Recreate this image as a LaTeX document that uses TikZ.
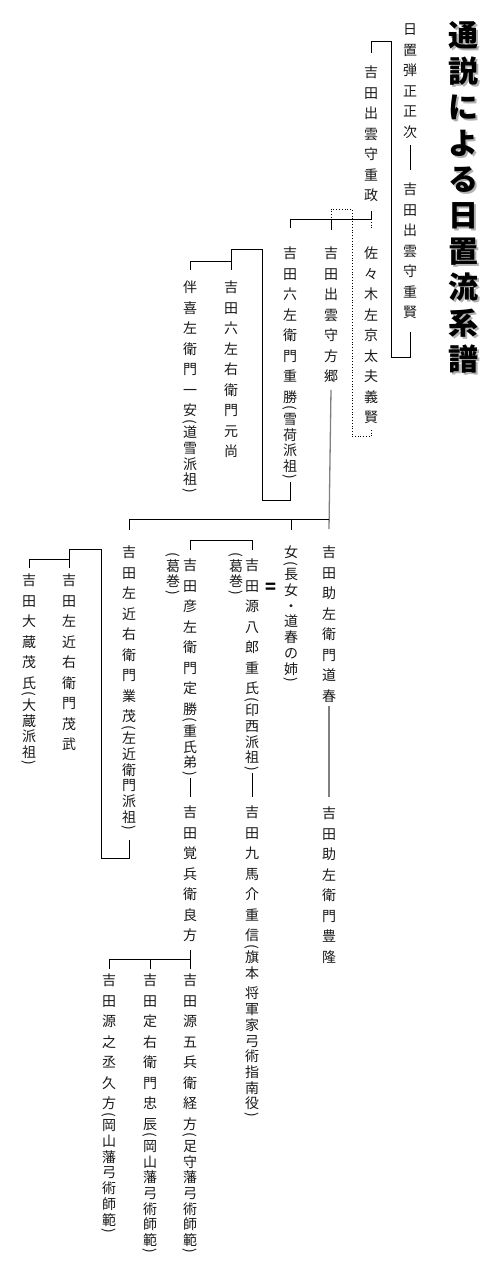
\documentclass[tikz,border=0pt]{standalone}
\usepackage{fontspec}
\usepackage{graphicx}
\setmainfont{Noto Sans CJK JP}
\makeatletter
\newdimen\meigap \meigap=6.5pt
\newdimen\kakkogap \kakkogap=1.7pt
\newcommand\kuhaku{\rule{0pt}{3pt}}
\def\tate@kuhaku{\kuhaku}
\newcommand\tateji[1]{\@tfor\tate@c:=#1\do{%
  \ifx\tate@c\tate@kuhaku\hbox{\kuhaku}%
  \else\hbox to 1em{\hss\vrule height .88em depth .12em width 0pt\tate@c\hss}\fi}}
\newcommand\kakkoji[1]{\lineskip=\kakkogap
  \hbox to 1em{\hss\rotatebox{-90}{(}\hss}\tateji{#1}\hbox to 1em{\hss\rotatebox{-90}{)}\hss}}
% 縦書き：[括弧書き]{本文}
\newcommand\mei[2][]{\vbox{\baselineskip=0pt\lineskiplimit=\maxdimen\lineskip=\meigap
  \tateji{#2}\if\relax\detokenize{#1}\relax\else\kakkoji{#1}\fi}}
\newcommand\midashifont{\fontsize{30}{30}\selectfont\bfseries\meigap=6pt\relax}
\makeatother
\begin{document}
\begin{tikzpicture}[x=1pt, y=-1pt, line width=0.8pt,
    mei/.style={anchor=north, inner sep=0pt, text=black!90, font=\fontsize{14}{14}\selectfont},
    midashi/.style={anchor=north, inner sep=0pt, font=\midashifont},
    koi/.style={gray, line width=1.3pt}]
  \fill[white] (0,0) rectangle (500,1270);
  % 表題
  \node[midashi, text=black!30] (kage) at (465,22) {\mei{通説による日置流系譜}};
  \node[midashi] (title) at (463,20) {\mei{通説による日置流系譜}};
  % 上段
  \node[mei] (masatsugu) at (410,22) {\mei{日置弾正正次}};
  \node[mei] (shigekata) at (410,182) {\mei{吉田出雲守重賢}};
  \node[mei] (shigemasa) at (371,65) {\mei{吉田出雲守重政}};
  \node[mei] (sasaki) at (371,246) {\mei{佐々木左京太夫義賢}};
  \node[mei] (tomosato) at (331,246) {\mei{吉田出雲守方郷}};
  \node[mei] (shigekatsu) at (290,246) {\mei[雪荷派祖]{吉田六左衛門重勝}};
  \node[mei] (motonao) at (231,280) {\mei{吉田六左右衛門元尚}};
  \node[mei] (kazuyasu) at (190,280) {\mei[道雪派祖]{伴喜左衛門一安}};
  % 中段
  \node[mei] (dosyun) at (329,545) {\mei{吉田助左衛門道春}};
  \node[mei] (onna) at (291,545) {\mei[長女・道春の姉]{女}};
  \node[inner sep=0pt, font=\fontsize{18}{18}\selectfont\bfseries] (fufu) at (271,588) {=};
  \node[mei] (shigeuji) at (252,558) {\mei[印西派祖]{吉田源八郎重氏}};
  \node[mei] (kuzumaki1) at (236,552) {\mei[葛巻]{}};
  \node[mei] (sadakatsu) at (190,558) {\mei[重氏弟]{吉田彦左衛門定勝}};
  \node[mei] (kuzumaki2) at (173,552) {\mei[葛巻]{}};
  \node[mei] (narishige) at (129,545) {\mei[左近衛門派祖]{吉田左近右衛門業茂}};
  \node[mei] (mochitake) at (69,573) {\mei{吉田左近右衛門茂武}};
  \node[mei] (mochiuji) at (29,573) {\mei[大蔵派祖]{吉田大蔵茂氏}};
  % 下段
  \node[mei] (toyotaka) at (329,806) {\mei{吉田助左衛門豊隆}};
  \node[mei] (shigenobu) at (252,805) {\mei[旗本\kuhaku 将軍家弓術指南役]{吉田九馬介重信}};
  \node[mei] (yoshikata) at (190,805) {\mei{吉田覚兵衛良方}};
  \node[mei] (tsunekata) at (190,973) {\mei[足守藩弓術師範]{吉田源五兵衛経方}};
  \node[mei] (tadatoki) at (150,973) {\mei[岡山藩弓術師範]{吉田定右衛門忠辰}};
  \node[mei] (hisakata) at (109,973) {\mei[岡山藩弓術師範]{吉田源之丞久方}};
  % 系線
  \draw ([yshift=-6pt]masatsugu.south) -- ([yshift=12pt]shigekata.north);
  \draw ([yshift=-12pt]shigekata.south) -- ++(0,26) -- ++(-19,0) |- ([yshift=24pt]shigemasa.north) -- ([yshift=12pt]shigemasa.north);
  \draw ([yshift=-8pt]shigemasa.south) -- ([yshift=27pt]sasaki.north) -| ([yshift=18pt]shigekatsu.north);
  \draw ([yshift=27pt]tomosato.north) -- ([yshift=16pt]tomosato.north);
  \draw[dotted] ([yshift=27pt]sasaki.north) -- ([yshift=16pt]sasaki.north);
  \draw[dotted] ([yshift=-5pt]sasaki.south) -- ++(0,7) -- ++(-19,0) |- ([yshift=37pt]tomosato.north) -- ([yshift=27pt]tomosato.north);
  \draw ([yshift=-2pt]shigekatsu.south) -- ++(0,18) -- ++(-28,0) |- ([yshift=31pt]motonao.north) -- ([yshift=10pt]motonao.north);
  \draw ([yshift=19pt]motonao.north) -| ([yshift=10pt]kazuyasu.north);
  \draw[koi] ([yshift=-6pt]tomosato.south) -- ([yshift=16pt]dosyun.north);
  \draw ([yshift=26pt]dosyun.north) -| ([yshift=15pt]narishige.north);
  \draw ([yshift=26pt]onna.north) -- ([yshift=15pt]onna.north);
  \draw[koi] ([yshift=-3pt]dosyun.south) -- ([yshift=9pt]toyotaka.north);
  \draw ([yshift=8pt]shigeuji.north) |- ([yshift=18pt]sadakatsu.north) -- ([yshift=8pt]sadakatsu.north);
  \draw ([yshift=-2pt]shigeuji.south) -- ([yshift=8pt]shigenobu.north);
  \draw ([yshift=-2pt]sadakatsu.south) -- ([yshift=8pt]yoshikata.north);
  \draw ([yshift=-7pt]yoshikata.south) -- ([yshift=4pt]tsunekata.north);
  \draw ([yshift=14pt]tsunekata.north) -| ([yshift=4pt]hisakata.north);
  \draw ([yshift=14pt]tadatoki.north) -- ([yshift=4pt]tadatoki.north);
  \draw ([yshift=-9pt]narishige.south) -- ++(0,19) -- ++(-28,0) |- ([yshift=24pt]mochitake.north) -- ([yshift=5pt]mochitake.north);
  \draw ([yshift=14pt]mochitake.north) -| ([yshift=5pt]mochiuji.north);
\end{tikzpicture}
\end{document}
